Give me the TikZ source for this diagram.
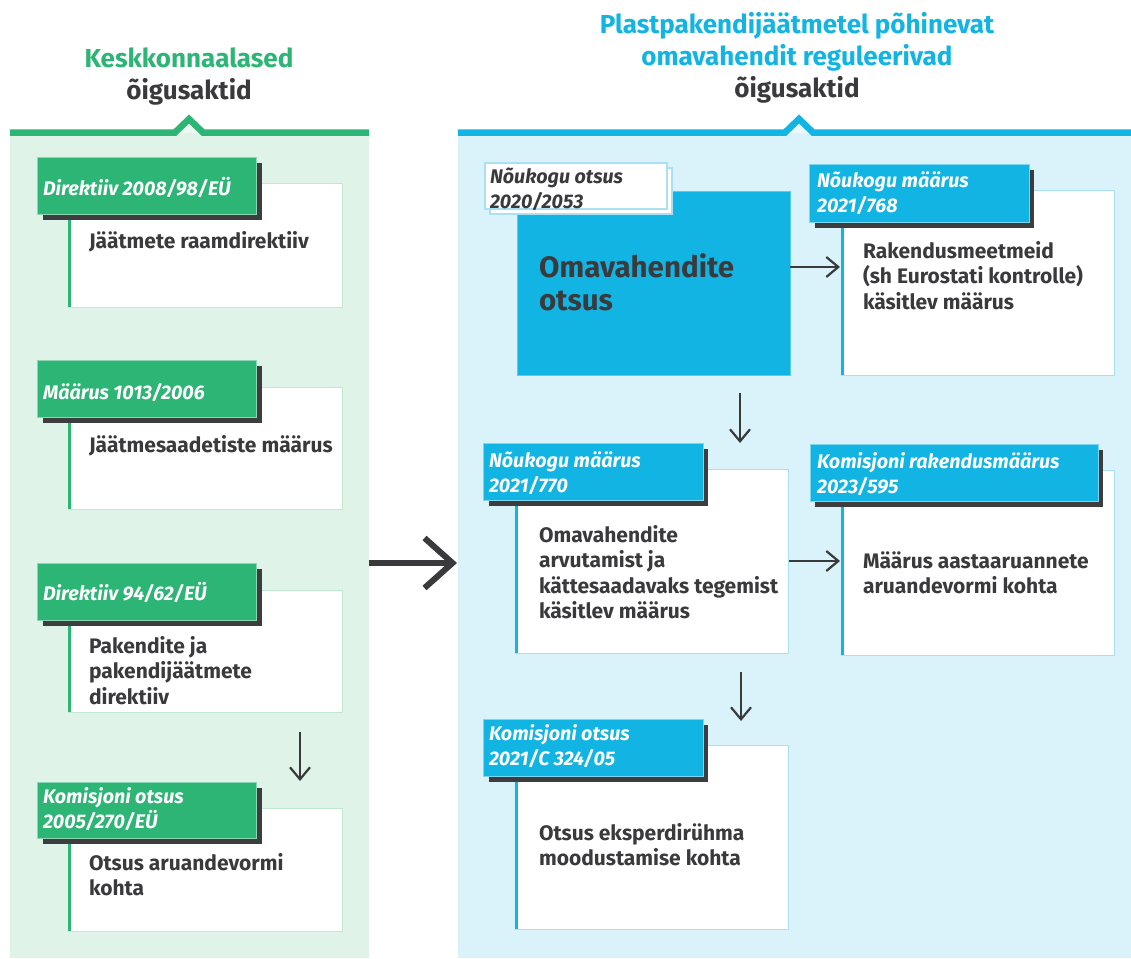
\documentclass[tikz,border=0pt]{standalone}
\usepackage{fontspec}
\setmainfont{Fira Sans}
\usetikzlibrary{arrows.meta,fit}
\definecolor{kgreen}{HTML}{2CB574}
\definecolor{kgreenbg}{HTML}{DFF3E8}
\definecolor{kgreenln}{HTML}{C3E8D2}
\definecolor{kblue}{HTML}{12B4E3}
\definecolor{kbluebg}{HTML}{DAF3FA}
\definecolor{kblueln}{HTML}{A9E0F3}
\definecolor{kdark}{HTML}{3A3A3C}
\definecolor{kshadow}{HTML}{3D3D3F}
\newcommand\mylines[1]{\parbox[t]{330pt}{\raggedright #1}}
\begin{document}
\begin{tikzpicture}[x=1pt,y=-1pt,
  every node/.style={inner sep=0pt, outer sep=0pt},
  panelG/.style={fill=kgreenbg},
  panelB/.style={fill=kbluebg},
  shadowbox/.style={fill=kshadow},
  glabel/.style={fill=kgreen, draw=kgreen!55!white, line width=0.8pt},
  blabel/.style={fill=kblue, draw=kblue!55!white, line width=0.8pt},
  gbox/.style={fill=white, draw=kgreenln, line width=1pt},
  bbox/.style={fill=white, draw=kblueln, line width=1pt},
  wlabel/.style={fill=white, draw=kblueln, line width=1.3pt},
  gaccent/.style={draw=kgreen, line width=3pt},
  baccent/.style={draw=kblue, line width=3pt},
  lbltext/.style={anchor=base west, text=white, font=\fontsize{19.7}{25.5}\selectfont\bfseries\itshape},
  dlbltext/.style={lbltext, text=kdark},
  bodytext/.style={anchor=base west, text=kdark, font=\fontsize{21}{25.5}\selectfont\bfseries},
  bigtext/.style={anchor=base west, text=kdark, font=\fontsize{29.5}{33}\selectfont\bfseries},
  titletext/.style={anchor=base, font=\fontsize{26}{32}\selectfont\bfseries},
  arr/.style={draw=kdark, line width=2.2pt, -{Straight Barb[length=12pt,width=20pt]}},
  bigarr/.style={draw=kdark, line width=6pt, -{Straight Barb[length=28pt,width=50pt]}},
]
\useasboundingbox (0,0) rectangle (1131,958);
\fill[white] (0,0) rectangle (1131,958);

% titles
\node[titletext] (tl) at (189,67) {\parbox[t]{320pt}{\centering\textcolor{kgreen}{Keskkonnaalased}\\\textcolor{kdark}{õigusaktid}}};
\node[titletext] (tr) at (797,33.5) {\parbox[t]{520pt}{\centering\textcolor{kblue}{Plastpakendijäätmetel põhinevat}\\\textcolor{kblue}{omavahendit reguleerivad}\\\textcolor{kdark}{õigusaktid}}};

% panels
\node[panelG, fit={(10,132)(369,958)}] (lp) {};
\node[panelB, fit={(458,132)(1131,958)}] (rp) {};
\fill[kgreenbg!55!white] (175,133)--(189,119.5)--(203,133)--cycle;
\fill[kbluebg!55!white] (785,133)--(799,119.5)--(813,133)--cycle;
\draw[kgreen, line width=6.5pt] (10,132.5)--(175,132.5)--(189,119)--(203,132.5)--(369,132.5);
\draw[kblue, line width=6.5pt] (458,132.5)--(785,132.5)--(799,119)--(813,132.5)--(1131,132.5);

% ---- left blocks ----
% L1
\node[gbox, fit={(68,183)(342,307)}] (l1) {};
\draw[gaccent] ([xshift=1.5pt]l1.north west) -- ([xshift=1.5pt]l1.south west);
\node[shadowbox, fit={(43,163)(262,220)}] (l1s) {};
\node[glabel, fit={(37,157)(256,214)}] (l1l) {};
\node[lbltext] (l1t) at (43,195) {Direktiiv 2008/98/EÜ};
\node[bodytext] (l1b) at (89,248) {Jäätmete raamdirektiiv};
% L2
\node[gbox, fit={(68,387)(342,509)}] (l2) {};
\draw[gaccent] ([xshift=1.5pt]l2.north west) -- ([xshift=1.5pt]l2.south west);
\node[shadowbox, fit={(43,366)(262,423)}] (l2s) {};
\node[glabel, fit={(37,360)(256,417)}] (l2l) {};
\node[lbltext] (l2t) at (43,399) {Määrus 1013/2006};
\node[bodytext] (l2b) at (89,452) {Jäätmesaadetiste määrus};
% L3
\node[gbox, fit={(68,590)(342,712)}] (l3) {};
\draw[gaccent] ([xshift=1.5pt]l3.north west) -- ([xshift=1.5pt]l3.south west);
\node[shadowbox, fit={(43,569)(262,626)}] (l3s) {};
\node[glabel, fit={(37,563)(256,620)}] (l3l) {};
\node[lbltext] (l3t) at (43,600) {Direktiiv 94/62/EÜ};
\node[bodytext] (l3b) at (89,653) {\mylines{Pakendite ja\\pakendijäätmete\\direktiiv}};
% L4
\node[gbox, fit={(68,808)(342,931)}] (l4) {};
\draw[gaccent] ([xshift=1.5pt]l4.north west) -- ([xshift=1.5pt]l4.south west);
\node[shadowbox, fit={(43,788)(262,844)}] (l4s) {};
\node[glabel, fit={(37,782)(256,838)}] (l4l) {};
\node[lbltext] (l4t) at (43,803) {\mylines{Komisjoni otsus\\2005/270/EÜ}};
\node[bodytext] (l4b) at (89,870) {\mylines{Otsus aruandevormi\\kohta}};

% ---- right blocks ----
% Omavahendite otsus
\node[fill=kblue, draw=kblue!70!white, line width=1pt, fit={(517,191)(790,375)}] (om) {};
\node[wlabel, fit={(490,168)(672,214)}] (r0b) {};
\node[wlabel, fit={(485,163)(667,209)}] (r0l) {};
\node[dlbltext] (r0t) at (490,183) {\mylines{Nõukogu otsus\\2020/2053}};
\node[bigtext] (omt) at (539,277) {\mylines{Omavahendite\\otsus}};
% R1
\node[bbox, fit={(841,190)(1114,375)}] (r1) {};
\draw[baccent] ([xshift=1.5pt]r1.north west) -- ([xshift=1.5pt]r1.south west);
\node[shadowbox, fit={(815,170)(1034,228)}] (r1s) {};
\node[blabel, fit={(809,164)(1029,222)}] (r1l) {};
\node[lbltext] (r1t) at (817,187) {\mylines{Nõukogu määrus\\2021/768}};
\node[bodytext] (r1b) at (863,258) {\mylines{Rakendusmeetmeid\\(sh Eurostati kontrolle)\\käsitlev määrus}};
% M1
\node[bbox, fit={(515,469)(788,653)}] (m1) {};
\draw[baccent] ([xshift=1.5pt]m1.north west) -- ([xshift=1.5pt]m1.south west);
\node[shadowbox, fit={(489,449)(708,506)}] (m1s) {};
\node[blabel, fit={(483,443)(703,500)}] (m1l) {};
\node[lbltext] (m1t) at (489,467) {\mylines{Nõukogu määrus\\2021/770}};
\node[bodytext] (m1b) at (539,542) {\mylines{Omavahendite\\arvutamist ja\\kättesaadavaks tegemist\\käsitlev määrus}};
% M2
\node[bbox, fit={(841,470)(1114,655)}] (m2) {};
\draw[baccent] ([xshift=1.5pt]m2.north west) -- ([xshift=1.5pt]m2.south west);
\node[shadowbox, fit={(815,450)(1103,507)}] (m2s) {};
\node[blabel, fit={(810,444)(1098,501)}] (m2l) {};
\node[lbltext] (m2t) at (817,468) {\mylines{Komisjoni rakendusmäärus\\2023/595}};
\node[bodytext] (m2b) at (863,568) {\mylines{Määrus aastaaruannete\\aruandevormi kohta}};
% B1
\node[bbox, fit={(515,745)(788,929)}] (b1) {};
\draw[baccent] ([xshift=1.5pt]b1.north west) -- ([xshift=1.5pt]b1.south west);
\node[shadowbox, fit={(489,725)(708,782)}] (b1s) {};
\node[blabel, fit={(483,719)(703,776)}] (b1l) {};
\node[lbltext] (b1t) at (489,740) {\mylines{Komisjoni otsus\\2021/C 324/05}};
\node[bodytext] (b1b) at (539,840) {\mylines{Otsus eksperdirühma\\moodustamise kohta}};

% ---- connectors ----
\coordinate (d1s) at (740,393);
\coordinate (d1e) at (740,443);
\coordinate (d2s) at (741,672);
\coordinate (d2e) at (741,721);
\coordinate (d3s) at (300,732);
\coordinate (d3e) at (300,781);
\draw[bigarr] ([yshift=-18pt]lp.east) -- ([yshift=-18pt,xshift=-1pt]rp.west);
\draw[arr, shorten >=1pt] ([yshift=16pt]om.east) -- ([yshift=16pt]om.east -| r1.west);
\draw[arr, shorten >=1pt] ([xshift=1pt]m1.east) -- (m1.east -| m2.west);
\draw[arr] (d1s) -- (d1e);
\draw[arr] (d2s) -- (d2e);
\draw[arr] (d3s) -- (d3e);
\end{tikzpicture}
\end{document}
